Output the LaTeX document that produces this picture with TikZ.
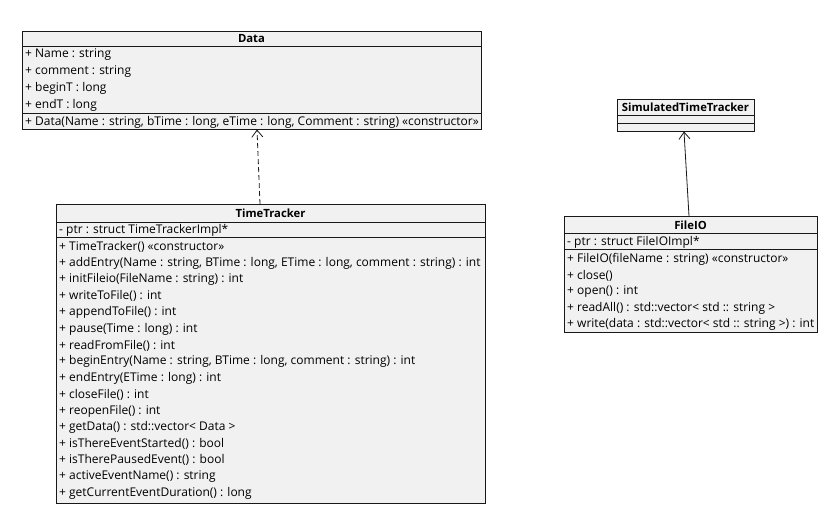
\documentclass[tikz,border=0pt]{standalone}
\usepackage{fontspec}
\setmainfont{Open Sans}
\usetikzlibrary{arrows.meta}
\definecolor{clsfill}{HTML}{F1F1F1}
\definecolor{clsline}{HTML}{181818}
\begin{document}
\begin{tikzpicture}[x=1pt,y=-1pt,
  cls/.style={draw=clsline,fill=clsfill,line width=0.8pt,anchor=north west,inner sep=0pt},
  sepline/.style={draw=clsline,line width=0.8pt},
  ttl/.style={font=\fontsize{11.3}{14}\selectfont\bfseries,inner sep=0pt},
  mem/.style={font=\fontsize{12}{14}\selectfont,anchor=west,inner sep=0pt},
  rel/.style={draw=clsline,line width=0.8pt,-{Straight Barb[length=7pt,width=11pt,line width=0.8pt]}}]
\useasboundingbox (0,0) rectangle (831,532);

% ---------- Data ----------
\node[cls,minimum width=459pt,minimum height=98pt] (data) at (22,31) {};
\draw[sepline] (22,46) -- (481,46);
\draw[sepline] (22,113) -- (481,113);
\node[ttl] (dataT) at (251.5,39) {Data};
\node[mem] (d1) at (25,55) {+ Name : string};
\node[mem] (d2) at (25,72) {+ comment : string};
\node[mem] (d3) at (25,88) {+ beginT : long};
\node[mem] (d4) at (25,105) {+ endT : long};
\node[mem] (d5) at (25,122) {+ Data(Name : string, bTime : long, eTime : long, Comment : string) «constructor»};

% ---------- TimeTracker ----------
\node[cls,minimum width=429pt,minimum height=299pt] (tt) at (56,204) {};
\draw[sepline] (56,222) -- (485,222);
\draw[sepline] (56,237) -- (485,237);
\node[ttl] (ttT) at (270.5,213.5) {TimeTracker};
\node[mem] (t0) at (59,230.5) {- ptr : struct TimeTrackerImpl*};
\foreach \txt [count=\i from 0] in {%
  {+ TimeTracker() «constructor»},
  {+ addEntry(Name : string, BTime : long, ETime : long, comment : string) : int},
  {+ initFileio(FileName : string) : int},
  {+ writeToFile() : int},
  {+ appendToFile() : int},
  {+ pause(Time : long) : int},
  {+ readFromFile() : int},
  {+ beginEntry(Name : string, BTime : long, comment : string) : int},
  {+ endEntry(ETime : long) : int},
  {+ closeFile() : int},
  {+ reopenFile() : int},
  {+ getData() : std::vector< Data >},
  {+ isThereEventStarted() : bool},
  {+ isTherePausedEvent() : bool},
  {+ activeEventName() : string},
  {+ getCurrentEventDuration() : long}}
  \node[mem] (tm\i) at (59,247+16.4*\i) {\txt};

% ---------- SimulatedTimeTracker ----------
\node[cls,minimum width=137pt,minimum height=32pt] (stt) at (617,99) {};
\draw[sepline] (617,115) -- (754,115);
\draw[sepline] (617,123) -- (754,123);
\node[ttl] (sttT) at (685.5,107.5) {SimulatedTimeTracker};

% ---------- FileIO ----------
\node[cls,minimum width=253pt,minimum height=116pt] (fio) at (564,216) {};
\draw[sepline] (564,233) -- (817,233);
\draw[sepline] (564,249) -- (817,249);
\node[ttl] (fioT) at (690.5,225.5) {FileIO};
\node[mem] (f0) at (567,242.5) {- ptr : struct FileIOImpl*};
\node[mem] (f1) at (567,259) {+ FileIO(fileName : string) «constructor»};
\node[mem] (f2) at (567,275.5) {+ close()};
\node[mem] (f3) at (567,292) {+ open() : int};
\node[mem] (f4) at (567,308) {+ readAll() : std::vector< std :: string >};
\node[mem] (f5) at (567,324.5) {+ write(data : std::vector< std :: string >) : int};

% ---------- relations ----------
\coordinate (ttTop) at (260,204);
\coordinate (dataBot) at (257,129.5);
\draw[rel,dash pattern=on 5pt off 3pt] (ttTop) -- (dataBot);
\coordinate (fioTop) at (689,216);
\coordinate (sttBot) at (684,131.5);
\draw[rel] (fioTop) -- (sttBot);
\end{tikzpicture}
\end{document}
